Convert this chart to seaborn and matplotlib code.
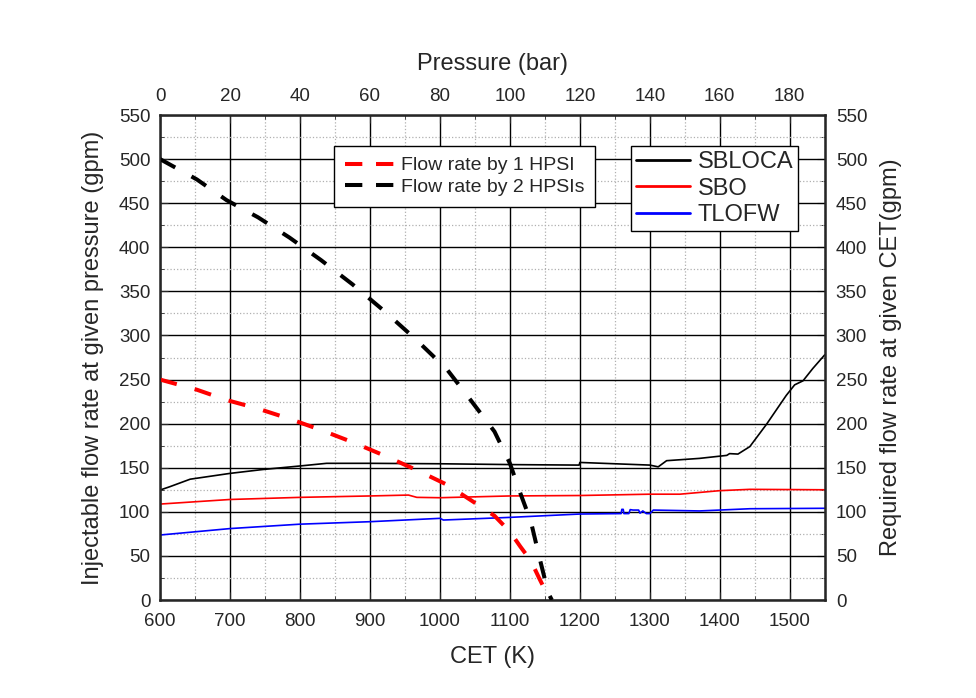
import numpy as np
import pandas as pd
import matplotlib
matplotlib.use('Agg')
import matplotlib.pyplot as plt
import seaborn as sns
from matplotlib.ticker import MultipleLocator

# injectable flow vs pressure (bar)
pressure = [0, 10.5, 19, 28, 37, 46, 55, 64, 73, 82, 89, 95.6, 100, 103, 106, 108.4, 111, 112]
flow_2hpsi = [500, 477, 453.5, 434, 411, 385.5, 358, 328, 296, 261.6, 225.6, 191, 155, 121, 89, 49, 7.6, 0]
flow_1hpsi = [250, 238.5, 226.8, 217, 205.5, 192.8, 179, 164, 148, 130.8, 112.8, 95.5, 77.5, 60.5, 44.5, 24.5, 3.8, 0]

# required flow vs CET (K)
cet_sbloca = [600, 614, 643, 700, 747, 800, 838, 900, 1000, 1110, 1199, 1200, 1300, 1312, 1324, 1371,
              1410, 1414, 1426, 1443, 1467, 1495, 1507, 1519, 1533, 1550]
sbloca = [124.7, 128.5, 137, 143.6, 148, 152, 155, 155, 154.5, 153.5, 153, 156, 153, 151, 158, 160.6,
          164, 166, 165.5, 174, 199.5, 232, 244, 248.6, 262.6, 278]
cet_sbo = [600, 700, 800, 900, 955, 967, 1000, 1100, 1200, 1300, 1343, 1400, 1443, 1550]
sbo = [108.8, 114, 116.4, 118, 119, 116.4, 116, 118, 118.5, 120, 120, 124, 125.5, 125]
cet_tlofw = [600, 700, 800, 900, 1000, 1005, 1100, 1200, 1259, 1260, 1262, 1263, 1270, 1272, 1276,
             1284, 1286, 1290, 1295, 1300, 1305, 1371, 1443, 1550]
tlofw = [73.7, 81, 86, 88.8, 92.6, 90.7, 93.7, 97.5, 98, 102.8, 102.8, 98, 98, 102.5, 102, 102, 98.5,
         101, 98, 98, 102, 101, 103.5, 104]

sns.set_style('ticks')
plt.rcParams['font.family'] = ['Liberation Sans', 'DejaVu Sans']

fig = plt.figure(figsize=(9.76, 6.98), dpi=100)
ax = fig.add_axes([0.164, 0.1404, 0.681, 0.6948])

df_req = pd.concat([
    pd.DataFrame({'CET': cet_sbloca, 'flow': sbloca, 'case': 'SBLOCA'}),
    pd.DataFrame({'CET': cet_sbo, 'flow': sbo, 'case': 'SBO'}),
    pd.DataFrame({'CET': cet_tlofw, 'flow': tlofw, 'case': 'TLOFW'}),
])
sns.lineplot(data=df_req, x='CET', y='flow', hue='case', sort=False, estimator=None,
             palette={'SBLOCA': 'black', 'SBO': 'red', 'TLOFW': 'blue'}, linewidth=1.2, ax=ax)

ax.set_xlim(600, 1550)
ax.set_ylim(0, 550)
ax.xaxis.set_major_locator(MultipleLocator(100))
ax.xaxis.set_minor_locator(MultipleLocator(50))
ax.yaxis.set_major_locator(MultipleLocator(50))
ax.yaxis.set_minor_locator(MultipleLocator(25))
ax.grid(True, which='major', color='black', linewidth=1.0)
ax.grid(True, which='minor', color='#b0b0b0', linestyle=':', linewidth=0.9)
ax.set_axisbelow(True)
ax.tick_params(which='both', direction='in', labelsize=13.5, pad=7)
ax.tick_params(axis='x', which='both', pad=9)
ax.tick_params(which='major', length=6)
ax.tick_params(which='minor', length=3)
ax.set_xlabel('CET (K)', fontsize=17, labelpad=12)
ax.set_ylabel('Injectable flow rate at given pressure (gpm)', fontsize=17, labelpad=11)
for s in ax.spines.values():
    s.set_linewidth(1.8)

leg1 = ax.legend(loc='upper left', bbox_to_anchor=(0.709, 0.936), borderaxespad=0,
                 fontsize=17, frameon=True, fancybox=False, edgecolor='black', framealpha=1,
                 handlelength=2.3, borderpad=0.2, labelspacing=0.2, handletextpad=0.3)
leg1.get_frame().set_linewidth(1.0)
for h in leg1.get_lines():
    h.set_linewidth(2.0)

ax_r = ax.secondary_yaxis('right')
ax_r.yaxis.set_major_locator(MultipleLocator(50))
ax_r.yaxis.set_minor_locator(MultipleLocator(25))
ax_r.tick_params(which='both', direction='in', labelsize=13.5, pad=8)
ax_r.tick_params(which='major', length=6)
ax_r.tick_params(which='minor', length=3)
ax_r.set_ylabel('Required flow rate at given CET(gpm)', fontsize=17, labelpad=9)

ax_p = ax.twiny()
df_inj = pd.concat([
    pd.DataFrame({'P': pressure, 'flow': flow_1hpsi, 'pump': 'Flow rate by 1 HPSI'}),
    pd.DataFrame({'P': pressure, 'flow': flow_2hpsi, 'pump': 'Flow rate by 2 HPSIs'}),
])
sns.lineplot(data=df_inj, x='P', y='flow', hue='pump', sort=False, estimator=None,
             palette={'Flow rate by 1 HPSI': 'red', 'Flow rate by 2 HPSIs': 'black'},
             linewidth=2.9, ax=ax_p)
for ln in ax_p.get_lines():
    ln.set_dashes([4.3, 4.6])
ax_p.set_xlim(0, 190)
ax_p.set_ylim(0, 550)
ax_p.xaxis.set_major_locator(MultipleLocator(20))
ax_p.xaxis.set_minor_locator(MultipleLocator(10))
ax_p.tick_params(which='both', direction='in', labelsize=13.5, pad=7)
ax_p.tick_params(which='major', length=6)
ax_p.tick_params(which='minor', length=3)
ax_p.set_xlabel('Pressure (bar)', fontsize=17, labelpad=13)
ax_p.set_ylabel('')
leg2 = ax_p.legend(loc='upper left', bbox_to_anchor=(0.262, 0.936), borderaxespad=0,
                   fontsize=14, frameon=True, fancybox=False, edgecolor='black', framealpha=1,
                   handlelength=2.6, borderpad=0.55, labelspacing=0.2, handletextpad=0.3)
leg2.get_frame().set_linewidth(1.0)
for h in leg2.get_lines():
    h.set_dashes([4.3, 3.4])
    h.set_linewidth(2.9)

fig.savefig('out.png', dpi=100)
